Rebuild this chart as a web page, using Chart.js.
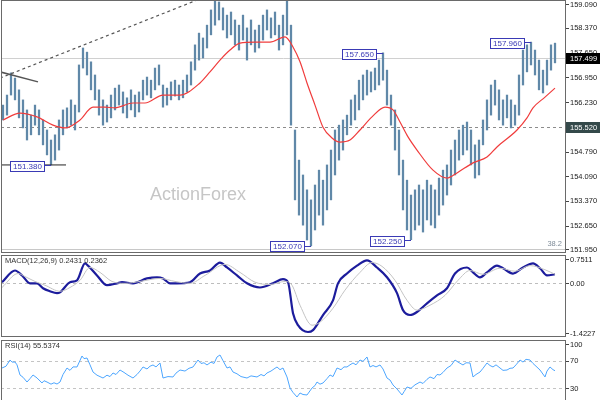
<!DOCTYPE html>
<html><head><meta charset="utf-8">
<script src="https://cdn.jsdelivr.net/npm/chart.js@4.4.1/dist/chart.umd.min.js"></script>
<style>
html,body{margin:0;padding:0;background:#fff;overflow:hidden;width:600px;height:400px}
canvas{position:absolute;left:0}
#c1{top:0}#c2{top:254px}#c3{top:339px}
</style></head><body>
<canvas id="c1" width="600" height="254"></canvas>
<canvas id="c2" width="600" height="85"></canvas>
<canvas id="c3" width="600" height="71"></canvas>
<script>
// ---- price bars (index = bar number) ----
const highs = [156.14,156.43,157.07,156.92,156.58,156.29,156.00,155.85,156.14,156.00,
 155.71,155.42,155.13,155.28,155.71,156.00,156.06,156.29,156.14,157.30,
 157.79,157.67,157.39,157.01,156.58,156.29,156.14,156.43,156.63,156.72,
 156.52,156.35,156.58,156.43,156.52,156.86,156.95,156.86,157.21,157.30,
 156.72,156.63,156.81,156.86,156.72,156.86,157.01,157.39,157.88,158.22,
 158.08,158.45,158.89,159.18,159.12,158.95,158.74,158.83,158.60,158.45,
 158.74,158.37,158.60,158.31,158.45,158.74,158.89,158.66,158.83,158.45,
 158.74,159.18,158.45,155.42,154.55,154.12,153.69,153.40,153.83,154.26,
 153.97,154.41,154.84,155.42,155.56,155.71,155.85,156.29,156.43,156.86,
 157.01,157.15,157.10,157.21,157.44,157.65,157.15,156.43,156.00,155.42,
 154.55,153.97,153.54,153.69,153.83,153.69,153.97,153.83,153.69,154.03,
 154.26,154.41,154.84,155.13,155.42,155.56,155.65,155.42,154.99,155.13,
 155.71,156.29,156.72,156.86,156.58,156.29,156.43,156.29,156.14,157.01,
 157.73,157.88,157.96,157.73,157.44,157.15,157.44,157.88,157.93];
const lows = [155.71,155.85,156.43,156.29,155.77,155.48,155.13,155.28,155.56,155.28,
 154.99,154.70,154.41,154.55,154.84,155.28,155.48,155.56,155.42,155.94,
 157.21,157.01,156.58,156.29,155.85,155.56,155.65,155.77,156.00,156.14,
 155.91,155.77,156.00,155.80,155.94,156.29,156.43,156.35,156.58,156.72,
 156.08,156.14,156.29,156.40,156.29,156.35,156.52,156.72,157.15,157.44,
 157.50,157.79,158.17,158.45,158.60,158.31,158.08,158.17,157.88,157.73,
 158.02,157.44,157.88,157.67,157.79,158.02,158.31,158.08,158.17,157.73,
 157.88,158.17,155.56,153.40,152.96,152.67,152.24,152.07,152.53,152.96,
 152.67,153.11,153.40,154.12,154.55,154.84,155.28,155.56,155.71,156.00,
 156.29,156.43,156.52,156.58,156.72,156.86,156.14,155.56,154.84,154.12,
 153.11,152.53,152.25,152.53,152.67,152.47,152.82,152.67,152.59,152.96,
 153.25,153.54,153.83,154.12,154.55,154.70,154.84,154.41,154.03,154.12,
 154.99,155.42,155.85,156.14,155.71,155.56,155.77,155.48,155.56,155.85,
 156.72,157.10,157.30,157.01,156.58,156.49,156.72,157.15,157.36];
// ---- moving average [bar, price] ----
const maPts = [[0,155.71],[4.25,155.91],[8.5,155.80],[12.5,155.56],[15.5,155.48],[19.25,155.71],[22.5,156.08],[25.5,156.08],[28,156.06],[32.5,156.20],[35.5,156.20],[40,156.43],[44.25,156.43],[49.25,156.78],[51.75,157.10],[54.25,157.44],[56.75,157.73],[59.25,157.93],[63,157.96],[66.75,157.96],[70.5,158.11],[72.5,157.82],[74.25,157.39],[76,156.78],[78,156.14],[80,155.50],[82.25,155.19],[84.25,155.07],[86.75,155.13],[89.25,155.42],[92.25,155.80],[95.5,156.08],[97.5,156.00],[99.25,155.65],[101.25,155.22],[103.5,154.84],[107.5,154.26],[111,154.03],[113.5,154.18],[117.5,154.47],[121,154.64],[123.5,154.93],[128.5,155.42],[131,155.77],[132.5,156.06],[135.5,156.37],[138,156.63]];
// ---- trend lines [bar, price] ----
const trendDashed = [[-0.75,156.92],[53,159.38]];
const trendSolid = [[-0.75,157.10],[8.75,156.81]];
const lowLine = [[-0.5,154.41],[15.75,154.41]];
// ---- price axis ----
const priceTicks = [159.09,158.37,157.65,156.95,156.23,155.52,154.79,154.09,153.37,152.65,151.95];
const lastPrice = 157.499, supportLevel = 155.52, fibLevel = 151.98;
const notes = [
  {bar:95, v:157.65, text:'157.650'},
  {bar:132, v:157.96, text:'157.960'},
  {bar:77, v:152.07, text:'152.070'},
  {bar:102, v:152.25, text:'152.250'},
  {bar:12, v:154.41, text:'151.380'}
];
// ---- MACD [bar, value] ----
const macdPts = [[-0.25,0.03],[3,0.34],[4.75,0.21],[6.75,0.00],[8.5,0.00],[10,-0.13],[11.75,-0.21],[13.5,-0.26],[14.25,-0.24],[16.75,0.03],[18.5,0.08],[20.5,0.53],[21.25,0.47],[23.5,0.21],[26,-0.05],[28.5,0.00],[29.75,0.03],[32.5,0.00],[36,0.13],[38.5,0.16],[40,0.13],[41.75,0.00],[43.5,0.00],[46.75,0.03],[49.25,0.26],[51.75,0.34],[54.25,0.55],[56,0.42],[58.5,0.21],[61,0.00],[64.25,-0.11],[67.5,0.00],[70,0.11],[71.25,0.03],[72.5,-0.79],[73.75,-1.11],[76.25,-1.29],[77.5,-1.24],[80,-0.84],[82.5,-0.45],[83.75,0.00],[86,0.26],[88.5,0.47],[91,0.61],[93.5,0.42],[96,0.16],[98.5,-0.26],[100,-0.71],[101.75,-0.84],[103.5,-0.76],[106,-0.53],[108.5,-0.32],[111,-0.13],[113,0.26],[116,0.42],[117.5,0.29],[119.25,0.16],[121,0.29],[123.5,0.47],[125,0.40],[127.5,0.26],[130,0.42],[132.5,0.53],[134.25,0.40],[136,0.21],[138,0.24]];
const signalPts = [[-0.25,-0.11],[3.75,0.26],[5.5,0.18],[8,0.05],[10.5,-0.05],[14.25,-0.21],[16.75,-0.11],[19.25,0.08],[21.75,0.42],[24.25,0.29],[27.25,0.05],[30.5,0.00],[34.25,0.05],[39.25,0.13],[43,0.05],[46.75,0.00],[50.5,0.21],[55.5,0.50],[59.25,0.29],[63,0.03],[66.75,-0.03],[70.5,0.05],[72.25,-0.05],[74.25,-0.58],[77.25,-1.11],[79.25,-1.03],[82.5,-0.66],[85.5,-0.18],[89.25,0.29],[92.25,0.55],[94.75,0.45],[98,0.08],[101,-0.45],[103.5,-0.71],[106.75,-0.58],[110.5,-0.32],[113.75,0.08],[116.75,0.34],[120,0.24],[124.25,0.40],[128,0.32],[131.75,0.47],[135.5,0.36],[138,0.24]];
const macdTicks = [0.7511, 0, -1.4227];
const macdTickLabels = ['0.7511','0.00','-1.4227'];
// ---- RSI [bar, value] ----
const rsiPts = [[-0.25,59.4],[0.75,62],[1.75,71.0],[2.25,68],[3,68.1],[3.5,64],[4.25,49.3],[5,46],[6,39.1],[6.75,44],[7.5,49.3],[8.5,45],[9.75,37.7],[10.25,41],[11,39.1],[12,36],[12.75,38],[13.5,36.2],[14.25,39.1],[15,50],[16,59.4],[16.75,56],[17.5,61],[18.5,60.9],[19.75,76.8],[20.25,73],[21,73.9],[21.75,64],[22.5,53.6],[23.5,49],[25,44.9],[26,49],[26.75,47],[27.5,52.2],[28.25,50],[29.25,56.5],[30.25,53],[31.25,49],[32.5,44.9],[33.5,50],[34.25,55],[35,60.9],[36,58],[36.75,62],[37.5,63.8],[38.25,61],[39.25,66.7],[40,44.9],[41.25,47],[42.5,46.4],[43.25,52],[44.25,56.5],[45.5,55],[46.5,59],[47.5,60.9],[48.75,71.0],[49.5,66],[50.25,67],[51,63.8],[52,68],[52.75,66],[53.5,75.4],[54.25,78.3],[55,70],[56,59.4],[56.75,61],[57.5,53.6],[58.5,51],[59.5,47],[61,44.9],[62,48],[63.5,46.4],[64.5,50],[65.25,48],[66,52.2],[67,55],[67.75,58],[68.5,60.9],[69.25,57],[70,59.4],[71,46.4],[71.75,30.4],[72.5,24],[73.5,17.4],[74.25,23.2],[75,21],[76,20.3],[77.25,30.4],[78,34],[78.5,39.1],[79.25,36],[80,37.7],[81,44],[81.75,49.3],[82.5,47],[83.5,59.4],[84.5,57],[85.25,61],[86,60.9],[86.75,64],[87.5,66.7],[88.25,64],[89.25,71.0],[90,69],[91,75.4],[91.75,60.9],[92.5,63],[93.25,61],[94.25,63.8],[95,58],[96,44.9],[96.75,42],[97.5,34.8],[98.5,29],[99.75,20.3],[100.25,25],[101,31.9],[102,30],[103,35],[104.25,39.1],[105,37],[106,43],[106.75,46.4],[107.75,44],[108.5,50],[109.25,49.3],[110,53],[111,59.4],[112,63],[113,71.0],[113.75,68],[115,63.8],[115.75,67],[116.75,66.7],[117.5,46.4],[118.25,50],[119.25,53.6],[120,59],[121,66.7],[121.75,63],[122.5,60.9],[123.25,64],[124.25,59.4],[125,56],[126,56.5],[126.75,59],[127.5,59.4],[128.25,64],[129.25,71.0],[130,68],[130.75,72],[131.75,71.0],[132.5,66],[133.25,62],[134.25,56.5],[135.5,46.4],[136,55],[136.75,60.9],[137.5,57],[138,55.5]];
const rsiTicks = [100, 70, 30];
const rsiTickLabels = ['100','70','30'];

const FONT = '"Liberation Sans", Arial, sans-serif';
const toXY = a => a.map(([x, y]) => ({x, y}));

function makePanel(cfg) {
  return {
    id: 'panel',
    beforeDatasetsDraw(chart) {
      const {ctx, chartArea: a, scales: {y}} = chart;
      ctx.save();
      (cfg.hlines || []).forEach(h => {
        const py = Math.round(y.getPixelForValue(h.v)) + 0.5;
        ctx.strokeStyle = h.color; ctx.lineWidth = 1; ctx.setLineDash(h.dash || []);
        ctx.beginPath(); ctx.moveTo(a.left, py); ctx.lineTo(a.right, py); ctx.stroke();
      });
      ctx.setLineDash([]);
      if (cfg.watermark) {
        ctx.font = '18px ' + FONT; ctx.fillStyle = '#c6c6c6';
        ctx.textBaseline = 'middle'; ctx.textAlign = 'left';
        ctx.fillText(cfg.watermark, 150, 195);
      }
      ctx.restore();
    },
    afterDraw(chart) {
      const {ctx, chartArea: a, scales: {x, y}} = chart;
      ctx.save();
      ctx.setLineDash([]);
      ctx.strokeStyle = '#6a6a6a'; ctx.lineWidth = 1;
      ctx.strokeRect(a.left + 0.5, a.top + 0.5, a.right - a.left - 1, a.bottom - a.top - 1);
      ctx.font = '7.5px ' + FONT; ctx.textBaseline = 'middle'; ctx.textAlign = 'left';
      cfg.ticks.forEach((v, k) => {
        let py = y.getPixelForValue(v);
        py = Math.min(Math.max(py, a.top + 4), a.bottom - 4);
        ctx.strokeStyle = '#444';
        ctx.beginPath(); ctx.moveTo(a.right, Math.round(py) + 0.5); ctx.lineTo(a.right + 3, Math.round(py) + 0.5); ctx.stroke();
        ctx.fillStyle = '#1a1a1a';
        ctx.fillText(cfg.labels[k], a.right + 4, py + 0.5);
      });
      (cfg.axisBoxes || []).forEach(b => {
        const py = y.getPixelForValue(b.v);
        ctx.fillStyle = b.bg; ctx.fillRect(a.right, Math.round(py) - 5, 600 - a.right, 11);
        ctx.fillStyle = '#fff'; ctx.fillText(b.text, a.right + 4, Math.round(py) + 0.5);
      });
      if (cfg.fibText) {
        const py = y.getPixelForValue(cfg.fibText.v);
        ctx.fillStyle = '#7f8c99'; ctx.textAlign = 'right';
        ctx.fillText(cfg.fibText.text, a.right - 4, py - 5);
        ctx.textAlign = 'left';
      }
      if (cfg.title) {
        ctx.font = '7.5px ' + FONT; ctx.fillStyle = '#333';
        ctx.fillText(cfg.title, a.left + 4, a.top + 6);
      }
      ctx.font = '8px ' + FONT;
      (cfg.notes || []).forEach(n => {
        const w = Math.round(ctx.measureText(n.text).width) + 5, h = 10;
        const px = Math.round(x.getPixelForValue(n.bar));
        const py = Math.round(y.getPixelForValue(n.v)) + 0.5;
        const cy = Math.min(Math.max(py, a.top + h / 2 + 1), a.bottom - h / 2 - 2);
        const bx = px - 7 - w;
        ctx.fillStyle = '#fff'; ctx.fillRect(bx, Math.round(cy - h / 2), w, h);
        ctx.strokeStyle = '#3a3ab5';
        ctx.strokeRect(bx + 0.5, Math.round(cy - h / 2) + 0.5, w, h);
        ctx.beginPath(); ctx.moveTo(bx + w, py); ctx.lineTo(px, py); ctx.stroke();
        ctx.fillStyle = '#3a3ab5'; ctx.textAlign = 'center';
        ctx.fillText(n.text, bx + w / 2 + 0.5, Math.round(cy - h / 2) + h / 2 + 1);
        ctx.textAlign = 'left';
      });
      ctx.restore();
    }
  };
}

function opts(yMin, yMax, pad) {
  return {
    responsive: false, animation: false, events: [],
    layout: {padding: pad},
    scales: {
      x: {type: 'linear', display: false, min: -0.5, max: 140.75, offset: false},
      y: {type: 'linear', display: false, min: yMin, max: yMax}
    },
    plugins: {legend: {display: false}, tooltip: {enabled: false}}
  };
}
const lineDs = (pts, color, width, extra) => Object.assign({
  type: 'line', data: toXY(pts), borderColor: color, borderWidth: width,
  pointRadius: 0, fill: false, tension: 0
}, extra || {});

new Chart(document.getElementById('c1'), {
  type: 'bar',
  data: {datasets: [
    {type: 'bar', data: highs.map((h, i) => ({x: i, y: [lows[i], h]})),
     backgroundColor: '#6088a8', barThickness: 1.6, order: 3},
    lineDs(maPts, '#f03c3c', 1.2, {cubicInterpolationMode: 'monotone', order: 2}),
    lineDs(trendDashed, '#555', 1.2, {borderDash: [3, 3], order: 1}),
    lineDs(trendSolid, '#555', 1.5, {order: 1}),
    lineDs(lowLine, '#222', 1, {order: 1})
  ]},
  options: opts(151.865, 159.177, {left: 1, right: 34, top: 0, bottom: 1}),
  plugins: [makePanel({
    ticks: priceTicks, labels: priceTicks.map(v => v.toFixed(3)),
    hlines: [{v: lastPrice, color: '#d0d0d0'}, {v: supportLevel, color: '#8c8c8c', dash: [3, 3]}, {v: fibLevel, color: '#c8c8c8'}],
    axisBoxes: [{v: lastPrice, text: lastPrice.toFixed(3), bg: '#000'}, {v: supportLevel, text: supportLevel.toFixed(3), bg: '#34494a'}],
    fibText: {v: fibLevel, text: '38.2'},
    notes: notes, watermark: 'ActionForex'
  })]
});

new Chart(document.getElementById('c2'), {
  type: 'line',
  data: {datasets: [
    lineDs(signalPts, '#c4c4c4', 1, {cubicInterpolationMode: 'monotone'}),
    lineDs(macdPts, '#1c1c9c', 2.2, {cubicInterpolationMode: 'monotone'})
  ]},
  options: opts(-1.4227, 0.7511, {left: 1, right: 34, top: 1, bottom: 2}),
  plugins: [makePanel({
    ticks: macdTicks, labels: macdTickLabels,
    hlines: [{v: 0, color: '#bdbdbd', dash: [3, 3]}],
    title: 'MACD(12,26,9) 0.2431 0.2362'
  })]
});

new Chart(document.getElementById('c3'), {
  type: 'line',
  data: {datasets: [lineDs(rsiPts, '#4da6ff', 1)]},
  options: opts(0, 100, {left: 1, right: 34, top: 1, bottom: 1}),
  plugins: [makePanel({
    ticks: rsiTicks, labels: rsiTickLabels,
    hlines: [{v: 70, color: '#c4c4c4', dash: [3, 3]}, {v: 30, color: '#c4c4c4', dash: [3, 3]}],
    title: 'RSI(14) 55.5374'
  })]
});
</script>
</body></html>
